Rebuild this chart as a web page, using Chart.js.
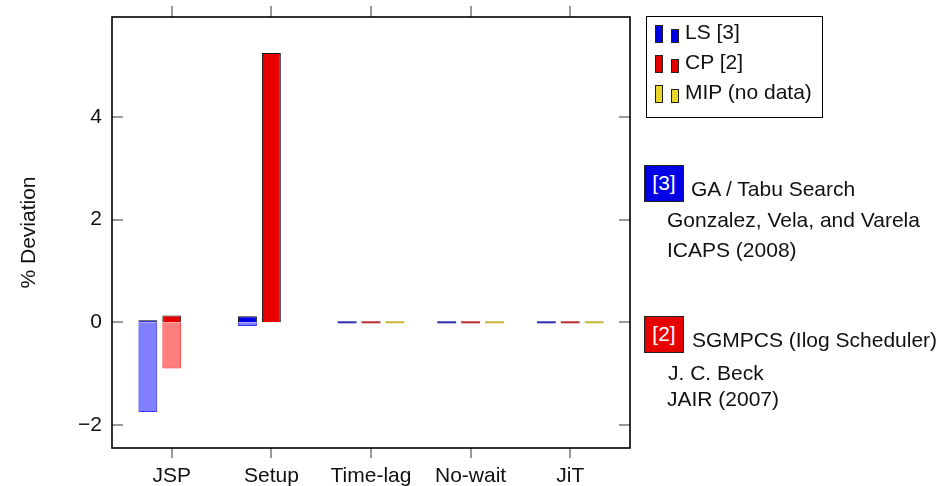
<!DOCTYPE html>
<html>
<head>
<meta charset="utf-8">
<title>% Deviation by problem class</title>
<script src="https://cdn.jsdelivr.net/npm/chart.js@4.4.1/dist/chart.umd.min.js"></script>
<style>
  html, body { margin: 0; padding: 0; background: #fff; }
  #wrap { position: relative; width: 941px; height: 486px; overflow: hidden;
          font-family: 'Liberation Sans', Arial, sans-serif; font-size: 21px; color: #111; }
  #chart { position: absolute; left: 0; top: 0; }

  /* legend box */
  .legend { position: absolute; left: 646px; top: 16px; width: 177px; height: 102px;
            border: 1px solid #000; box-sizing: border-box; }
  .legend .row { position: absolute; left: 0; height: 20px; }
  .legend .sw { position: absolute; bottom: 0; width: 8px; border: 1px solid #222; box-sizing: border-box; }
  .legend .sw.big { left: 8px; height: 18px; }
  .legend .sw.small { left: 24px; height: 14px; }
  .legend .txt { position: absolute; left: 38px; top: -3px; line-height: 24px; white-space: nowrap; }

  /* reference notes */
  .tag { position: absolute; left: 644px; width: 40px; height: 37px; box-sizing: border-box;
         border: 1px solid #222; color: #fff; text-align: center; line-height: 34px; }
  .note { position: absolute; line-height: 24px; white-space: nowrap; }
</style>
</head>
<body>
<div id="wrap">
  <canvas id="chart" width="941" height="486"></canvas>
  <div class="legend" id="legend"></div>
  <div id="notes"></div>
</div>
<script>
/* ── Data ───────────────────────────────────────── */
const categories  = ['JSP', 'Setup', 'Time-lag', 'No-wait', 'JiT'];
const seriesNames = ['LS [3]', 'CP [2]', 'MIP (no data)'];

// each method: solid part (upper) and translucent part (lower)
const lsUpper  = [0.03, 0.12, 0, 0, 0];
const lsLower  = [-1.75, -0.07, null, null, null];
const cpUpper  = [0.13, 5.25, 0, 0, 0];
const cpLower  = [-0.9, null, null, null, null];
const mipUpper = [null, null, 0, 0, 0];
const mipLower = [null, null, null, null, null];

const yTicks = [-2, 0, 2, 4];
const yMin = -2.45;
const yMax = 5.95;

/* ── Styles ─────────────────────────────────────── */
const solid    = ['#0000e6', '#e60000', '#e8d42a'];
const light    = ['rgba(0,0,255,0.5)', 'rgba(255,0,0,0.5)', 'rgba(230,210,40,0.5)'];
const lightEdge = ['rgba(20,20,255,0.85)', 'rgba(255,20,20,0.85)', 'rgba(200,180,30,0.85)'];
const zeroLine = ['#2e2eb4', '#b82e2e', '#c8b434'];

const toPoints = arr => arr.map((v, i) => ({ x: i, y: v }));
const isZero = c => c.raw && c.raw.y === 0;

function upperSet(values, k) {
  return {
    label: seriesNames[k],
    stack: 's' + k,
    data: toPoints(values),
    backgroundColor: c => isZero(c) ? zeroLine[k] : solid[k],
    borderColor: '#111',
    borderWidth: c => isZero(c) ? 0 : 1,
    minBarLength: 2,
  };
}
function lowerSet(values, k) {
  return {
    label: seriesNames[k] + ' (avg)',
    stack: 's' + k,
    data: toPoints(values),
    backgroundColor: light[k],
    borderColor: lightEdge[k],
    borderWidth: 1,
  };
}

/* ── Frame + mirrored ticks ─────────────────────── */
const frameTicks = {
  id: 'frameTicks',
  afterDatasetsDraw(chart) {
    const { ctx, chartArea: a, scales: { x, y } } = chart;
    ctx.save();
    ctx.strokeStyle = '#999';
    ctx.lineWidth = 2;
    ctx.beginPath();
    y.ticks.forEach(t => {
      const py = Math.round(y.getPixelForValue(t.value));
      ctx.moveTo(a.left, py);  ctx.lineTo(a.left + 11, py);
      ctx.moveTo(a.right, py); ctx.lineTo(a.right - 11, py);
    });
    x.ticks.forEach(t => {
      const px = Math.round(x.getPixelForValue(t.value));
      ctx.moveTo(px, a.top); ctx.lineTo(px, a.top - 11);
    });
    ctx.stroke();
    ctx.strokeStyle = '#000';
    ctx.lineWidth = 1.6;
    ctx.strokeRect(a.left, a.top, a.right - a.left, a.bottom - a.top);
    ctx.restore();
  }
};

/* ── Chart ──────────────────────────────────────── */
Chart.defaults.font.family = "'Liberation Sans', Arial, sans-serif";
Chart.defaults.font.size = 21;
Chart.defaults.color = '#111';

new Chart(document.getElementById('chart'), {
  type: 'bar',
  data: {
    datasets: [
      upperSet(lsUpper, 0),  lowerSet(lsLower, 0),
      upperSet(cpUpper, 1),  lowerSet(cpLower, 1),
      upperSet(mipUpper, 2), lowerSet(mipLower, 2),
    ]
  },
  options: {
    responsive: false,
    animation: false,
    categoryPercentage: 0.72,
    barPercentage: 0.79,
    layout: { padding: { left: 0, right: 311, top: 17, bottom: 0 } },
    plugins: { legend: { display: false }, tooltip: { enabled: false } },
    scales: {
      x: {
        type: 'linear',
        min: -0.6, max: 4.6,
        offset: false,
        afterBuildTicks: s => { s.ticks = categories.map((_, i) => ({ value: i })); },
        afterFit: s => { s.height = 38; s.paddingLeft = 0; s.paddingRight = 0; },
        ticks: { callback: v => categories[v], padding: 6, maxRotation: 0, autoSkip: false },
        grid: { offset: false, drawOnChartArea: false, drawTicks: true, tickLength: 10, color: '#999', lineWidth: 2 },
        border: { display: false },
      },
      y: {
        min: yMin, max: yMax,
        stacked: true,
        afterBuildTicks: s => { s.ticks = yTicks.map(v => ({ value: v })); },
        afterFit: s => { s.width = 112; s.paddingTop = 0; s.paddingBottom = 0; },
        ticks: { callback: v => v < 0 ? '\u2212' + Math.abs(v) : String(v), padding: 10 },
        grid: { display: false, drawTicks: false },
        border: { display: false },
        title: { display: true, text: '% Deviation', padding: { top: 17, bottom: 0 } },
      }
    }
  },
  plugins: [frameTicks]
});

/* ── Legend ─────────────────────────────────────── */
const legend = document.getElementById('legend');
seriesNames.forEach((name, k) => {
  const row = document.createElement('div');
  row.className = 'row';
  row.style.top = (6 + k * 30) + 'px';
  row.innerHTML = `<span class="sw big" style="background:${solid[k]}"></span>` +
                  `<span class="sw small" style="background:${solid[k]}"></span>` +
                  `<span class="txt">${name}</span>`;
  legend.appendChild(row);
});

/* ── Reference notes ────────────────────────────── */
const notes = document.getElementById('notes');
function addTag(text, color, top) {
  const d = document.createElement('div');
  d.className = 'tag';
  d.style.top = top + 'px';
  d.style.background = color;
  d.textContent = text;
  notes.appendChild(d);
}
function addNote(text, left, baseline) {
  const d = document.createElement('div');
  d.className = 'note';
  d.style.left = left + 'px';
  d.style.top = (baseline - 19) + 'px';
  d.textContent = text;
  notes.appendChild(d);
}
addTag('[3]', solid[0], 165);
addNote('GA / Tabu Search', 691, 196);
addNote('Gonzalez, Vela, and Varela', 667, 227);
addNote('ICAPS (2008)', 667, 257);
addTag('[2]', solid[1], 316);
addNote('SGMPCS (Ilog Scheduler)', 692, 347);
addNote('J. C. Beck', 668, 380);
addNote('JAIR (2007)', 667, 406);
</script>
</body>
</html>
